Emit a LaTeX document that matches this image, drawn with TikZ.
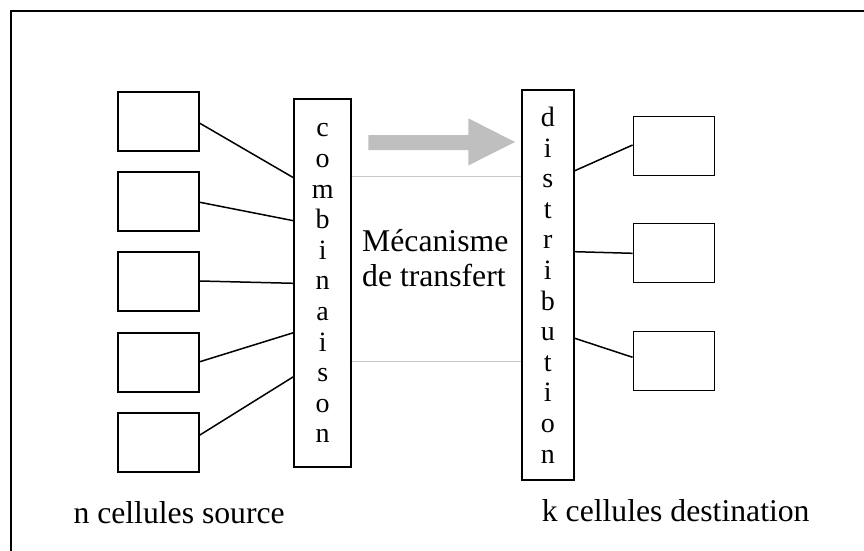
\documentclass[tikz,border=0pt]{standalone}
\usepackage{fontspec}
\setmainfont{Liberation Serif}
\begin{document}
\begin{tikzpicture}[x=1pt,y=-1pt,
  cell/.style={draw,line width=1.8pt,minimum width=81pt,minimum height=59pt,inner sep=0pt},
  bar/.style={draw,line width=1.8pt,inner sep=0pt,align=center,font=\fontsize{28}{30.6}\selectfont},
  link/.style={line width=1.5pt},
  guide/.style={draw=black!22,line width=1.4pt},
  label/.style={inner sep=0pt,font=\fontsize{31.7}{35}\selectfont}]
\useasboundingbox (0,0) rectangle (864,551);
\draw[line width=2pt] (10.5,551) -- (10.5,11.5) -- (864,11.5);
% source cells
\node[cell] (L1) at (158.5,121.2) {};
\node[cell] (L2) at (158.5,201.5) {};
\node[cell] (L3) at (158.5,281.8) {};
\node[cell] (L4) at (158.5,362.2) {};
\node[cell] (L5) at (158.5,442.8) {};
% destination cells
\node[cell] (R1) at (674,146) {};
\node[cell] (R2) at (674,253) {};
\node[cell] (R3) at (674,361) {};
% bars
\node[bar,minimum width=56.7pt,minimum height=368.3pt] (comb) at (322.7,283.2)
  {c\\o\\m\\b\\i\\n\\a\\i\\s\\o\\n};
\node[bar,minimum width=52.3pt,minimum height=390pt] (dist) at (547.8,285)
  {d\\i\\s\\t\\r\\i\\b\\u\\t\\i\\o\\n};
% connectors
\draw[link] (L1.east |- 0,123.3) -- (comb.west |- 0,177.7);
\draw[link] (L2.east |- 0,202.3) -- (comb.west |- 0,220.7);
\draw[link] (L3.east |- 0,281) -- (comb.west |- 0,283.3);
\draw[link] (L4.east |- 0,361.7) -- (comb.west |- 0,332.7);
\draw[link] (L5.east |- 0,435) -- (comb.west |- 0,376.7);
\draw[link] (dist.east |- 0,170.7) -- (R1.west |- 0,145);
\draw[link] (dist.east |- 0,251.7) -- (R2.west |- 0,253.3);
\draw[link] (dist.east |- 0,338.3) -- (R3.west |- 0,357.3);
% transfer mechanism
\draw[guide] (comb.east |- 0,176.7) -- (dist.west |- 0,176.7);
\draw[guide] (comb.east |- 0,361.7) -- (dist.west |- 0,361.7);
\fill[black!25] (368.3,135) -- (468.3,135) -- (468.3,118.3) -- (515,142) -- (468.3,165.5) -- (468.3,150) -- (368.3,150) -- cycle;
\node[label,anchor=base west,align=left] (mech) at (362,286.7) {Mécanisme\\de transfert};
% captions
\node[label,anchor=base west] (src) at (73.3,523) {n cellules source};
\node[label,anchor=base west] (dst) at (541.7,521.7) {k cellules destination};
\end{tikzpicture}
\end{document}
